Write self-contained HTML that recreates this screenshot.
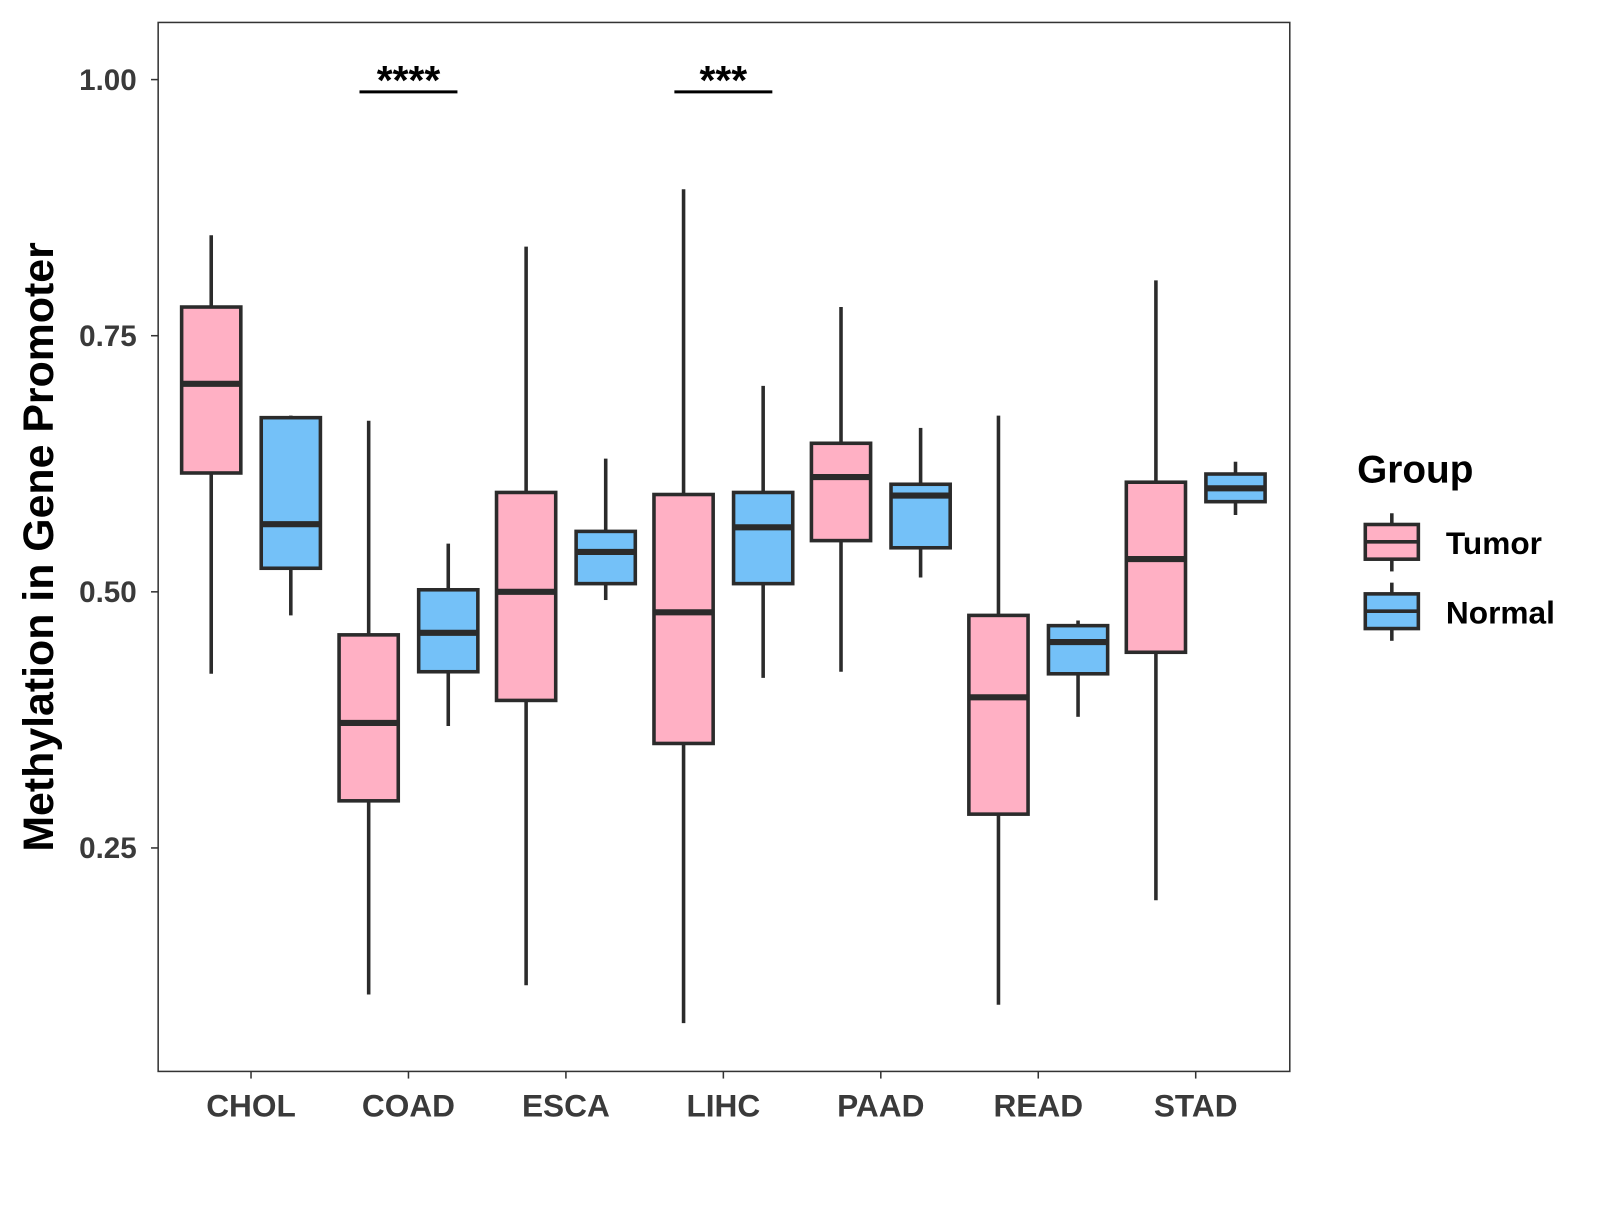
<!DOCTYPE html>
<html><head><meta charset="utf-8"><style>
body{margin:0;background:#fff;}
svg text{font-family:"Liberation Sans",Arial,sans-serif;font-weight:bold;}
</style></head><body>
<svg id="chart" width="1600" height="1200" xmlns="http://www.w3.org/2000/svg">
<g transform="scale(1.0204)">
<rect x="155" y="22" width="1109" height="1028" fill="#fff" stroke="#333" stroke-width="1.5"/>
<g id="marks"></g>
<text x="0" y="0" transform="translate(52,536) rotate(-90)" text-anchor="middle" font-size="42" fill="#000">Methylation in Gene Promoter</text>
<text x="1330" y="473" font-size="38" fill="#000">Group</text>
<g>
<line x1="1364" y1="503" x2="1364" y2="560" stroke="#2b2b2b" stroke-width="3.5"/>
<rect x="1338" y="514" width="52" height="34" fill="#FFB0C4" stroke="#2b2b2b" stroke-width="3.5"/>
<line x1="1338" y1="531" x2="1390" y2="531" stroke="#2b2b2b" stroke-width="3.5"/>
<text x="1417" y="543" font-size="31" fill="#000">Tumor</text></g>
<g>
<line x1="1364" y1="571" x2="1364" y2="628" stroke="#2b2b2b" stroke-width="3.5"/>
<rect x="1338" y="582" width="52" height="34" fill="#74C1F8" stroke="#2b2b2b" stroke-width="3.5"/>
<line x1="1338" y1="599" x2="1390" y2="599" stroke="#2b2b2b" stroke-width="3.5"/>
<text x="1417" y="611" font-size="31" fill="#000">Normal</text></g>
</g>
</svg>
<script>
const categories=["CHOL","COAD","ESCA","LIHC","PAAD","READ","STAD"];
// [low, q1, median, q3, high]
const tumorStats=[[0.420,0.616,0.703,0.778,0.848],[0.107,0.296,0.372,0.458,0.667],[0.116,0.394,0.500,0.597,0.837],[0.079,0.352,0.480,0.595,0.893],[0.422,0.550,0.612,0.645,0.778],[0.097,0.283,0.397,0.477,0.672],[0.199,0.441,0.532,0.607,0.804]];
const normalStats=[[0.477,0.523,0.566,0.670,0.672],[0.369,0.422,0.460,0.502,0.547],[0.492,0.508,0.539,0.559,0.630],[0.416,0.508,0.563,0.597,0.701],[0.514,0.543,0.594,0.605,0.660],[0.378,0.420,0.451,0.467,0.472],[0.575,0.588,0.601,0.615,0.627]];
const yTicks=[0.25,0.50,0.75,1.00];
const yTickLabels=["0.25","0.50","0.75","1.00"];
const sigCategories=["COAD","LIHC"];
const sigLabels=["****","***"];
const sigLevel=0.988;

const NS="http://www.w3.org/2000/svg";
const y=v=>78+(1-v)*1004;
const x=i=>246+i*154.3;
const g=document.getElementById('marks');
function mk(tag,attrs,parent){const e=document.createElementNS(NS,tag);for(const k in attrs)e.setAttribute(k,attrs[k]);(parent||g).appendChild(e);return e;}
yTicks.forEach((t,i)=>{
  const tk=mk('line',{x1:148,x2:155,y1:y(t),y2:y(t),stroke:'#333','stroke-width':1.5});
  
  
  const tl=mk('text',{x:134,y:y(t)+10,'text-anchor':'end','font-size':29,fill:'#3a3a3a'});
  tl.textContent=yTickLabels[i];
  
  
});
categories.forEach((c,i)=>{
  const tk=mk('line',{x1:x(i),x2:x(i),y1:1050,y2:1057,stroke:'#333','stroke-width':1.5});
  
  
  const tl=mk('text',{x:x(i),y:1094,'text-anchor':'middle','font-size':31,fill:'#3a3a3a'});
  tl.textContent=c;
  
  
});
function box(cx,s,fill,name){
  const grp=mk('g',{});
  
  
  const w=29,sw=3.5,col='#2b2b2b';
  mk('line',{x1:cx,x2:cx,y1:y(s[4]),y2:y(s[3]),stroke:col,'stroke-width':sw},grp);
  mk('line',{x1:cx,x2:cx,y1:y(s[1]),y2:y(s[0]),stroke:col,'stroke-width':sw},grp);
  mk('rect',{x:cx-w,y:y(s[3]),width:2*w,height:y(s[1])-y(s[3]),fill:fill,stroke:col,'stroke-width':sw},grp);
  mk('line',{x1:cx-w,x2:cx+w,y1:y(s[2]),y2:y(s[2]),stroke:col,'stroke-width':6},grp);
}
categories.forEach((c,i)=>{
  box(x(i)-39,tumorStats[i],'#FFB0C4','box-tumor-'+c.toLowerCase());
  box(x(i)+39,normalStats[i],'#74C1F8','box-normal-'+c.toLowerCase());
});
sigCategories.forEach((c,k)=>{
  const i=categories.indexOf(c);
  const l=mk('line',{x1:x(i)-48,x2:x(i)+48,y1:y(sigLevel),y2:y(sigLevel),stroke:'#000','stroke-width':3});
  
  
  const t=mk('text',{x:x(i),y:y(sigLevel)+2,'text-anchor':'middle','font-size':40,fill:'#000'});
  t.textContent=sigLabels[k];
  
  
});
</script>
</body></html>
